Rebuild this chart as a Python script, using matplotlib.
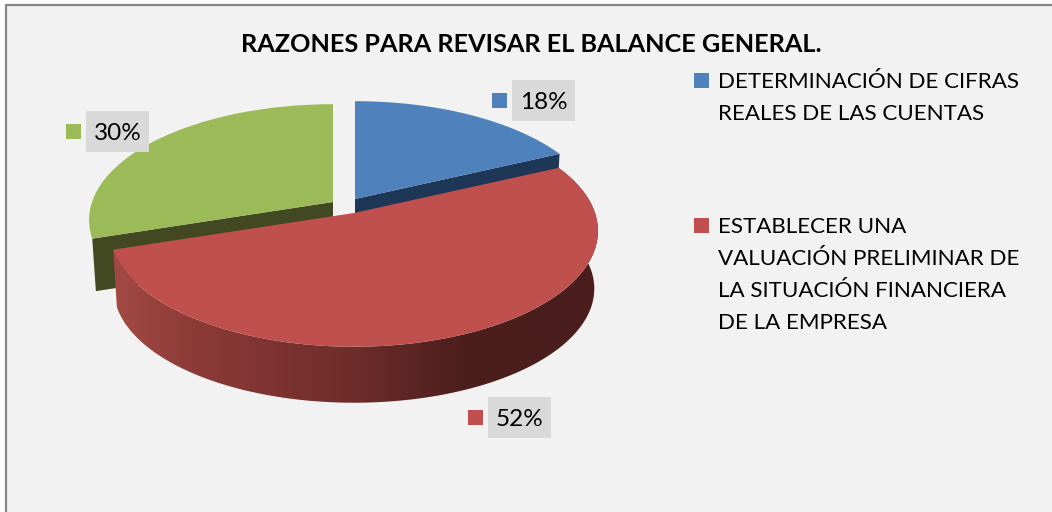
import numpy as np

import matplotlib
matplotlib.use('Agg')
import matplotlib.pyplot as plt
from matplotlib.colors import LinearSegmentedColormap
from matplotlib.patches import Polygon, Rectangle
from matplotlib.transforms import Transform

plt.rcParams['font.family'] = ['Lato', 'DejaVu Sans']

title = 'RAZONES PARA REVISAR EL BALANCE GENERAL.'
categories = [
    'DETERMINACIÓN DE CIFRAS\nREALES DE LAS CUENTAS',
    'ESTABLECER UNA\nVALUACIÓN PRELIMINAR DE\nLA SITUACIÓN FINANCIERA\nDE LA EMPRESA',
]
values = [18, 52, 30]
labels = ['18%', '52%', '30%']

top_colors = ['#4f81bd', '#c0504d', '#9bbb59']
wall_colors = ['#1f3756', '#4a1e1c', '#424822']

# pixel layout of the picture
apex = [(355, 199), (354, 213), (333, 202)]
A, B, K = 241, 113, 0.155
DEPTH, SHRINK = 58, 0.985


def tilt(u, v, centre, scale=1.0, drop=0):
    d = 1 + K * v
    return centre[0] + scale * A * u / d, centre[1] + drop - scale * B * v / d


class Tilt(Transform):
    input_dims = 2
    output_dims = 2

    def __init__(self, centre):
        super().__init__()
        self.centre = centre

    def transform_non_affine(self, xy):
        xy = np.asarray(xy, dtype=float)
        x, y = tilt(xy[:, 0], xy[:, 1], self.centre)
        return np.column_stack([x, y])


def arc(theta1, theta2, centre, scale=1.0, drop=0):
    t = np.radians(np.linspace(theta1, theta2, 200))
    x, y = tilt(np.cos(t), np.sin(t), centre, scale, drop)
    return np.column_stack([x, y])


def wedge_wall(theta1, theta2, centre):
    # the two cut faces of one slice, pushed down by the depth
    top = arc(theta1, theta2, centre)
    low = arc(theta1, theta2, centre, SHRINK, DEPTH - 5)
    a_top = np.array(centre, dtype=float)
    a_low = a_top + [0, DEPTH - 5]
    return [
        np.vstack([a_top, top[0], low[0], a_low]),
        np.vstack([a_top, top[-1], low[-1], a_low]),
    ]


fig = plt.figure(figsize=(10.52, 5.12), dpi=100, facecolor='white')
ax = fig.add_axes([0, 0, 1, 1])

wedges, _ = ax.pie(values, colors=top_colors, startangle=90, counterclock=False, radius=1)

ax.set_aspect('auto')
ax.set_xlim(0, 1052)
ax.set_ylim(512, 0)
ax.axis('off')

ax.add_patch(Rectangle((5.5, 4.5), 1100, 600, facecolor='#f2f2f2', edgecolor='#868686', linewidth=1.6, zorder=0))

for wedge, centre in zip(wedges, apex):
    wedge.set_transform(Tilt(centre) + ax.transData)
    wedge.set_zorder(3)
    wedge.set_linewidth(0)

# flat dark sides of the blue and green slices, under the red one
for i in [0, 2]:
    for face in wedge_wall(wedges[i].theta1, wedges[i].theta2, apex[i]):
        ax.fill(face[:, 0], face[:, 1], color=wall_colors[i], linewidth=0, zorder=1)
wedges[1].set_zorder(5)

# red rim has a shaded gradient running left to right
t1, t2 = wedges[1].theta1, wedges[1].theta2
rim = np.vstack([arc(t1, t2, apex[1]), arc(t1, t2, apex[1], SHRINK, DEPTH)[::-1]])
shade = LinearSegmentedColormap.from_list('rim', [
    (0.0, '#a54b46'), (0.18, '#8c3a37'), (0.5, '#6e2d2a'), (0.72, '#4c1e1c'), (1.0, '#4a1e1c'),
])
im = ax.imshow(np.linspace(0, 1, 256)[None, :], cmap=shade, aspect='auto',
               extent=(108, 600, 420, 160), zorder=4, interpolation='bilinear')
rim_patch = Polygon(rim, closed=True, transform=ax.transData, facecolor='none', edgecolor='none')
ax.add_patch(rim_patch)
im.set_clip_path(rim_patch)
ax.set_xlim(0, 1052)
ax.set_ylim(512, 0)

ax.text(531.5, 44, title, fontsize=18.2, fontweight='bold', ha='center', va='center', color='black', zorder=6)

# data labels: small colour key and grey box
label_box = [(512, 80), (488, 397), (86, 111)]
for lab, (bx, by), col in zip(labels, label_box, top_colors):
    ax.add_patch(Rectangle((bx, by), 63, 41, facecolor='#d9d9d9', edgecolor='none', zorder=6))
    ax.add_patch(Rectangle((bx - 20, by + 12.5), 15, 15, facecolor=col, edgecolor='none', zorder=6))
    ax.text(bx + 31.5, by + 22.5, lab, fontsize=17.5, ha='center', va='center', color='black', zorder=7)

# legend
legend_y = [73, 218]
for name, ky, col in zip(categories, legend_y, top_colors):
    ax.add_patch(Rectangle((694, ky), 15, 15, facecolor=col, edgecolor='none', zorder=6))
    for j, line in enumerate(name.split('\n')):
        ax.text(718, ky + 9 + j * 32, line, fontsize=16.15, ha='left', va='center', color='black', zorder=7)

plt.savefig('out.png', dpi=100)
